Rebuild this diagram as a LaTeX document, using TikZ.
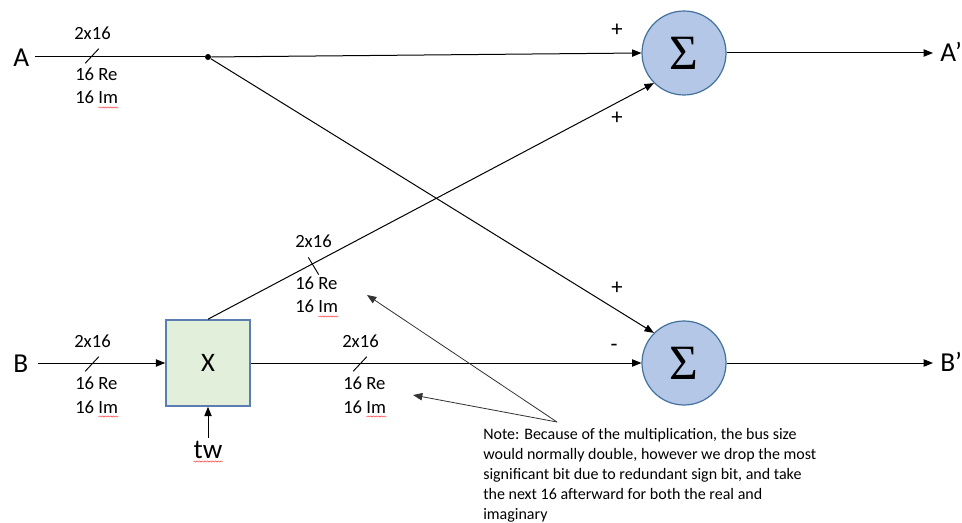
\documentclass[tikz,border=0pt]{standalone}
\usepackage{fontspec}
\setmainfont{Carlito}
\newfontfamily\sigfont{Liberation Serif}
\usetikzlibrary{arrows.meta,decorations.pathmorphing}
\definecolor{sumfill}{HTML}{B4C7E7}
\definecolor{sumdraw}{HTML}{41719C}
\definecolor{mulfill}{HTML}{E2EFDA}
\definecolor{muldraw}{HTML}{5B7DB1}
\tikzset{
  sumnode/.style={circle, draw=sumdraw, fill=sumfill, line width=0.9pt, minimum size=63pt, inner sep=0pt, font=\sigfont\fontsize{37}{37}\selectfont},
  mulnode/.style={rectangle, draw=muldraw, fill=mulfill, line width=1.2pt, minimum width=63pt, minimum height=64.5pt, inner sep=0pt},
  wire/.style={line width=0.75pt, -{Triangle[length=7pt,width=5.5pt]}},
  plainwire/.style={line width=0.75pt},
  notearrow/.style={line width=0.6pt, draw=black!80, -{Triangle[length=7pt,width=5.5pt]}},
  lbl/.style={font=\fontsize{14}{16}\selectfont, inner sep=0pt},
  signlbl/.style={font=\fontsize{17}{18}\selectfont, inner sep=0pt},
  biglbl/.style={font=\fontsize{20.5}{22}\selectfont, inner sep=0pt},
  spell/.style={draw=red!80, line width=0.35pt, decorate, decoration={snake, amplitude=0.45pt, segment length=2pt}},
  pics/bus/.style={code={
    \draw[line width=0.7pt, rotate=#1] (0,-10) -- (0,10);
  }},
}
\begin{document}
\begin{tikzpicture}[x=0.75pt, y=-0.75pt]
\useasboundingbox (0,0) rectangle (962,523);

% main blocks
\node[sumnode] (s1) at (684,53) {Σ};
\node[sumnode] (s2) at (684,363) {Σ};
\node[mulnode] (mul) at (208,363) {\fontsize{20}{20}\selectfont X};

% terminal labels
\node[biglbl, anchor=base west] (A) at (13,67) {A};
\node[biglbl, anchor=base west] (B) at (13,373) {B};
\node[biglbl, anchor=base west] (Ap) at (940,62) {A’};
\node[biglbl, anchor=base west] (Bp) at (940,371) {B’};
\node[biglbl, anchor=base] (tw) at (208,458) {tw};

\coordinate (aS) at (35,57);
\coordinate (bS) at (38,363);
\coordinate (apE) at (933,53);
\coordinate (bpE) at (933,363);
\coordinate (twS) at (208,438);
\node[circle, fill=black, inner sep=0pt, minimum size=4.5pt] (dot) at (208,57) {};

% connectors
\draw[plainwire] (aS) -- (dot);
\draw[wire] (dot) -- (s1.west);
\draw[wire] (dot) -- (s2.135);
\draw[wire] (mul.north) -- (s1.225);
\draw[wire] (bS) -- (mul.west);
\draw[wire] (mul.east) -- (s2.west);
\draw[wire] (s1.east) -- (apE);
\draw[wire] (s2.east) -- (bpE);
\draw[wire] (twS) -- (mul.south);

% bus markers
\pic at (92,56) {bus=-43};
\pic at (92,364) {bus=-43};
\pic at (360,364) {bus=-43};
\pic at (313.5,266) {bus=31};

% bus labels
\node[lbl, anchor=base west] (ba1) at (74,40) {2x16};
\node[lbl, anchor=base west] (ba2) at (75,81) {16 Re};
\node[lbl, anchor=base west] (ba3) at (75,104) {16 Im};
\node[lbl, anchor=base west] (bb1) at (74,348) {2x16};
\node[lbl, anchor=base west] (bb2) at (75,389) {16 Re};
\node[lbl, anchor=base west] (bb3) at (75,413) {16 Im};
\node[lbl, anchor=base west] (bc1) at (342,348) {2x16};
\node[lbl, anchor=base west] (bc2) at (343,389) {16 Re};
\node[lbl, anchor=base west] (bc3) at (343,413) {16 Im};
\node[lbl, anchor=base west] (bd1) at (295,248) {2x16};
\node[lbl, anchor=base west] (bd2) at (295,290) {16 Re};
\node[lbl, anchor=base west] (bd3) at (295,313) {16 Im};

% spell-check underlines
\draw[spell] ([yshift=-2.6pt]ba3.base east) -- ++(-15pt,0);
\draw[spell] ([yshift=-2.6pt]bb3.base east) -- ++(-15pt,0);
\draw[spell] ([yshift=-2.6pt]bc3.base east) -- ++(-15pt,0);
\draw[spell] ([yshift=-2.6pt]bd3.base east) -- ++(-15pt,0);
\draw[spell] ([yshift=-2.6pt]tw.base west) -- ([yshift=-2.6pt]tw.base east);

% signs
\node[signlbl] (p1) at (617,30) {+};
\node[signlbl] (p2) at (617,118) {+};
\node[signlbl] (p3) at (617,288) {+};
\node[signlbl] (m1) at (614,348) {-};

% note
\node[anchor=north west, inner sep=0pt, align=left, font=\fontsize{12}{15}\selectfont] (note) at (483,428)
 {Note: Because of the multiplication, the bus size\\
  would normally double, however we drop the most\\
  significant bit due to redundant sign bit, and take\\
  the next 16 afterward for both the real and\\
  imaginary};
\coordinate (nS) at (557,422);
\coordinate (nT1) at (367,295);
\coordinate (nT2) at (413,395);
\draw[notearrow] (nS) -- (nT1);
\draw[notearrow] (nS) -- (nT2);
\end{tikzpicture}
\end{document}
